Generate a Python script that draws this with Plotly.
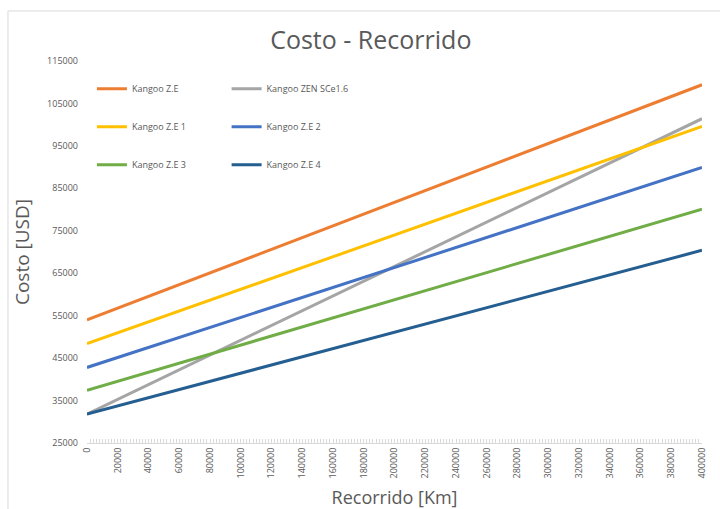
import plotly.graph_objects as go

# Data
recorrido = [0, 400000]
series_names = ["Kangoo Z.E", "Kangoo ZEN SCe1.6", "Kangoo Z.E 1",
                "Kangoo Z.E 2", "Kangoo Z.E 3", "Kangoo Z.E 4"]
kangoo_ze = [54000, 109400]
kangoo_zen = [31800, 101400]
kangoo_ze1 = [48400, 99600]
kangoo_ze2 = [42800, 89900]
kangoo_ze3 = [37400, 80100]
kangoo_ze4 = [31800, 70400]
x_ticks = list(range(0, 400001, 20000))
y_ticks = list(range(25000, 115001, 10000))

colors = ["#ED7D31", "#A5A5A5", "#FFC000", "#4472C4", "#70AD47", "#255E91"]
values = [kangoo_ze, kangoo_zen, kangoo_ze1, kangoo_ze2, kangoo_ze3, kangoo_ze4]
legends = ["legend", "legend2", "legend", "legend2", "legend", "legend2"]

fig = go.Figure()
for name, vals, col, lg in zip(series_names, values, colors, legends):
    fig.add_trace(go.Scatter(
        x=recorrido, y=vals, mode="lines", name=name,
        line=dict(color=col, width=3), legend=lg, legendgroup=name,
    ))

txt = "#595959"
legend_common = dict(
    orientation="v", xanchor="left", yanchor="top", y=0.965,
    font=dict(family="Open Sans", size=9, color=txt),
    bgcolor="rgba(0,0,0,0)", tracegroupgap=19, traceorder="grouped",
    itemwidth=30,
)

fig.update_layout(
    width=720, height=509,
    margin=dict(l=87, r=18, t=61, b=66),
    paper_bgcolor="white", plot_bgcolor="white",
    title=dict(text="Costo - Recorrido", x=0.515, xref="container", xanchor="center",
               y=0.92, yref="container", yanchor="middle",
               font=dict(family="Open Sans", size=25, color=txt)),
    legend=dict(x=0.008, **legend_common),
    legend2=dict(x=0.227, **legend_common),
    xaxis=dict(
        range=[0, 400000], tickvals=x_ticks, ticktext=[str(v) for v in x_ticks],
        tickangle=-90, showgrid=False, zeroline=False, automargin=False,
        showline=True, linecolor="#d9d9d9", linewidth=1,
        ticks="inside", ticklen=4, tickcolor="#d9d9d9",
        minor=dict(dtick=2000, tick0=0, ticks="inside", ticklen=4, tickcolor="#d9d9d9", showgrid=False),
        tickfont=dict(family="Open Sans", size=9, color=txt),
        title=dict(text="Recorrido [Km]", standoff=16,
                   font=dict(family="Open Sans", size=18, color=txt)),
    ),
    yaxis=dict(
        range=[25000, 115000], tickvals=y_ticks, ticktext=[str(v) for v in y_ticks],
        showgrid=False, zeroline=False, showline=False, ticks="", automargin=False,
        ticklabelstandoff=8,
        tickfont=dict(family="Open Sans", size=9, color=txt),
        title=dict(text="Costo [USD]", standoff=12,
                   font=dict(family="Open Sans", size=19, color=txt)),
    ),
    shapes=[dict(type="rect", xref="paper", yref="paper",
                 x0=-0.1285, x1=1.2, y0=-0.4, y1=1.131,
                 line=dict(color="#d9d9d9", width=1), fillcolor="rgba(0,0,0,0)",
                 layer="below")],
)

fig.write_html("out.html")
